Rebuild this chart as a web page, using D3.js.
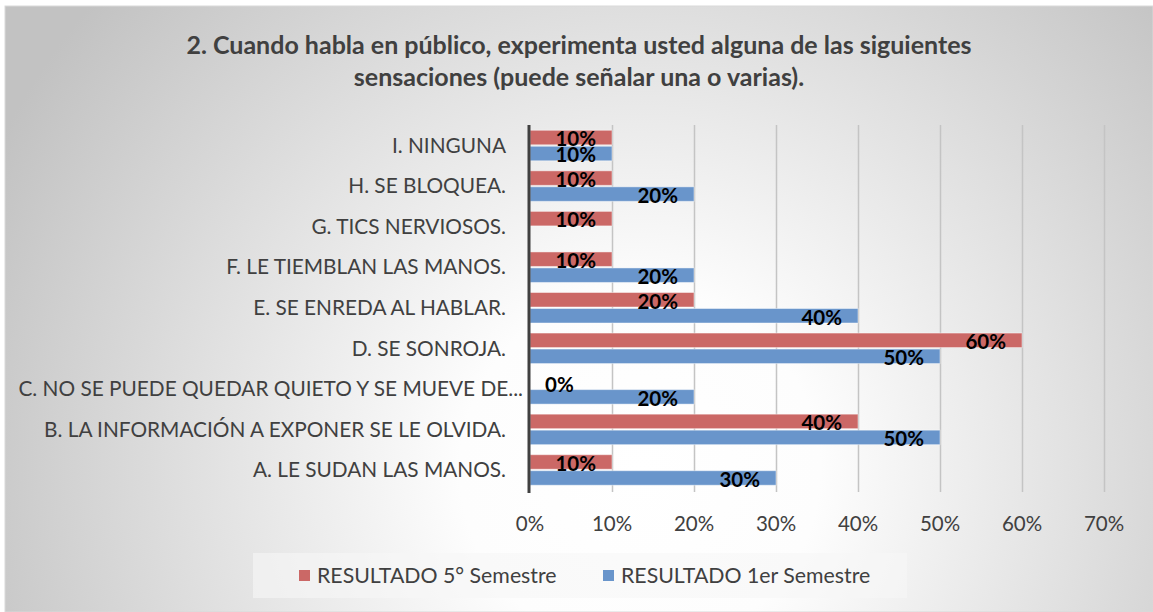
<!DOCTYPE html>
<html>
<head>
<meta charset="utf-8">
<script src="https://cdn.jsdelivr.net/npm/d3@7"></script>
<style>
  html, body { margin: 0; padding: 0; background: #fff; }
  svg { display: block; font-family: Lato, "Open Sans", sans-serif; }
</style>
</head>
<body>
<div id="chart"></div>
<script>
// categories top to bottom, as in the picture
var categories = [
    'I. NINGUNA',
    'H. SE BLOQUEA.',
    'G. TICS NERVIOSOS.',
    'F. LE TIEMBLAN LAS MANOS.',
    'E. SE ENREDA AL HABLAR.',
    'D. SE SONROJA.',
    'C. NO SE PUEDE QUEDAR QUIETO Y SE MUEVE DE...',
    'B. LA INFORMACIÓN A EXPONER SE LE OLVIDA.',
    'A. LE SUDAN LAS MANOS.'
];
var quinto = [0.10, 0.10, 0.10, 0.10, 0.20, 0.60, 0.00, 0.40, 0.10];
var primero = [0.10, 0.20, null, 0.20, 0.40, 0.50, 0.20, 0.50, 0.30];
var seriesNames = ['RESULTADO 5° Semestre', 'RESULTADO 1er Semestre'];
var seriesColors = ['#cb6866', '#6995cb'];
var xTicks = [0, 0.1, 0.2, 0.3, 0.4, 0.5, 0.6, 0.7];
var titleLines = [
    '2. Cuando habla en público, experimenta usted alguna de las siguientes',
    'sensaciones (puede señalar una o varias).'
];

var width = 1153, height = 612;
var textColor = '#404040';

var svg = d3.select('#chart').append('svg')
    .attr('width', width)
    .attr('height', height);

// background gradient
var grad = svg.append('defs').append('radialGradient')
    .attr('id', 'bg')
    .attr('gradientUnits', 'userSpaceOnUse')
    .attr('cx', 640).attr('cy', 470).attr('r', 720);
grad.append('stop').attr('offset', '0').attr('stop-color', '#ffffff');
grad.append('stop').attr('offset', '0.25').attr('stop-color', '#fdfdfd');
grad.append('stop').attr('offset', '1').attr('stop-color', '#c2c2c2');

svg.append('rect')
    .attr('x', 5).attr('y', 6)
    .attr('width', width - 5).attr('height', height - 6)
    .attr('fill', 'url(#bg)')
    .attr('stroke', '#d9d9d9')
    .attr('stroke-width', 1);

// title
svg.append('text')
    .attr('x', 579)
    .attr('text-anchor', 'middle')
    .attr('fill', textColor)
    .style('font-weight', 'bold')
    .style('font-size', '25px')
    .selectAll('tspan')
    .data(titleLines).enter()
    .append('tspan')
    .attr('x', 579)
    .attr('y', function(d, i) { return 54 + i * 32; })
    .text(function(d) { return d; });

var x = d3.scaleLinear().domain([0, 0.7]).range([530, 1104]);
var y = d3.scaleBand().domain(categories).range([125, 490]);

// gridlines (extend a bit below as tick marks)
svg.append('g')
    .selectAll('line')
    .data(xTicks.slice(1)).enter()
    .append('line')
    .attr('x1', function(d) { return Math.round(x(d)) + 0.5; })
    .attr('x2', function(d) { return Math.round(x(d)) + 0.5; })
    .attr('y1', 125)
    .attr('y2', 492)
    .attr('stroke', '#c4c4c4')
    .attr('stroke-width', 1.5);

// x tick labels
svg.append('g')
    .selectAll('text')
    .data(xTicks).enter()
    .append('text')
    .attr('x', function(d) { return x(d); })
    .attr('y', 531)
    .attr('text-anchor', 'middle')
    .attr('fill', textColor)
    .style('font-size', '20.5px')
    .text(d3.format('.0%'));

// category labels
svg.append('g')
    .selectAll('text')
    .data(categories).enter()
    .append('text')
    .attr('x', function(d, i) { return i === 6 ? 523 : 506; })
    .attr('y', function(d) { return y(d) + y.bandwidth() / 2 + 7.5; })
    .attr('text-anchor', 'end')
    .attr('fill', textColor)
    .style('font-size', '20.8px')
    .text(function(d) { return d; });

var barH = 14.5;
var series = [quinto, primero];
var barTop = function(d, s) { return y(d.cat) + y.bandwidth() / 2 - barH - 0.5 + s * (barH + 1.5); };
var rowsOf = function(values) {
    return categories.map(function(c, i) { return {cat: c, v: values[i]}; })
        .filter(function(d) { return d.v !== null; });
};

// bars first, then every label on top
series.forEach(function(values, s) {
    svg.append('g')
        .selectAll('rect')
        .data(rowsOf(values).filter(function(d) { return d.v > 0; })).enter()
        .append('rect')
        .attr('x', x(0))
        .attr('y', function(d) { return barTop(d, s); })
        .attr('width', function(d) { return x(d.v) - x(0); })
        .attr('height', barH)
        .attr('fill', seriesColors[s])
        .attr('stroke', 'rgba(255,255,255,0.45)')
        .attr('stroke-width', 1);
});

series.forEach(function(values, s) {
    svg.append('g')
        .selectAll('text')
        .data(rowsOf(values)).enter()
        .append('text')
        .attr('x', function(d) { return d.v > 0 ? x(d.v) - 16 : x(0) + 15; })
        .attr('y', function(d) { return barTop(d, s) + barH + (d.v > 0 ? 1.5 : 4); })
        .attr('text-anchor', function(d) { return d.v > 0 ? 'end' : 'start'; })
        .attr('fill', '#000')
        .style('font-weight', 'bold')
        .style('font-size', '20.5px')
        .text(function(d) { return d3.format('.0%')(d.v); });
});

// vertical axis line
svg.append('line')
    .attr('x1', 529).attr('x2', 529)
    .attr('y1', 125).attr('y2', 493)
    .attr('stroke', '#404040')
    .attr('stroke-width', 3);

// legend
var legend = svg.append('g');
legend.append('rect')
    .attr('x', 253).attr('y', 553)
    .attr('width', 654).attr('height', 45)
    .attr('fill', '#f7f7f7')
    .attr('fill-opacity', 0.6);

var legendX = [299, 603];
seriesNames.forEach(function(name, i) {
    legend.append('rect')
        .attr('x', legendX[i]).attr('y', 570)
        .attr('width', 11).attr('height', 11)
        .attr('fill', seriesColors[i]);
    legend.append('text')
        .attr('x', legendX[i] + 18)
        .attr('y', 583)
        .attr('fill', textColor)
        .style('font-size', '21.3px')
        .text(name);
});
</script>
</body>
</html>
